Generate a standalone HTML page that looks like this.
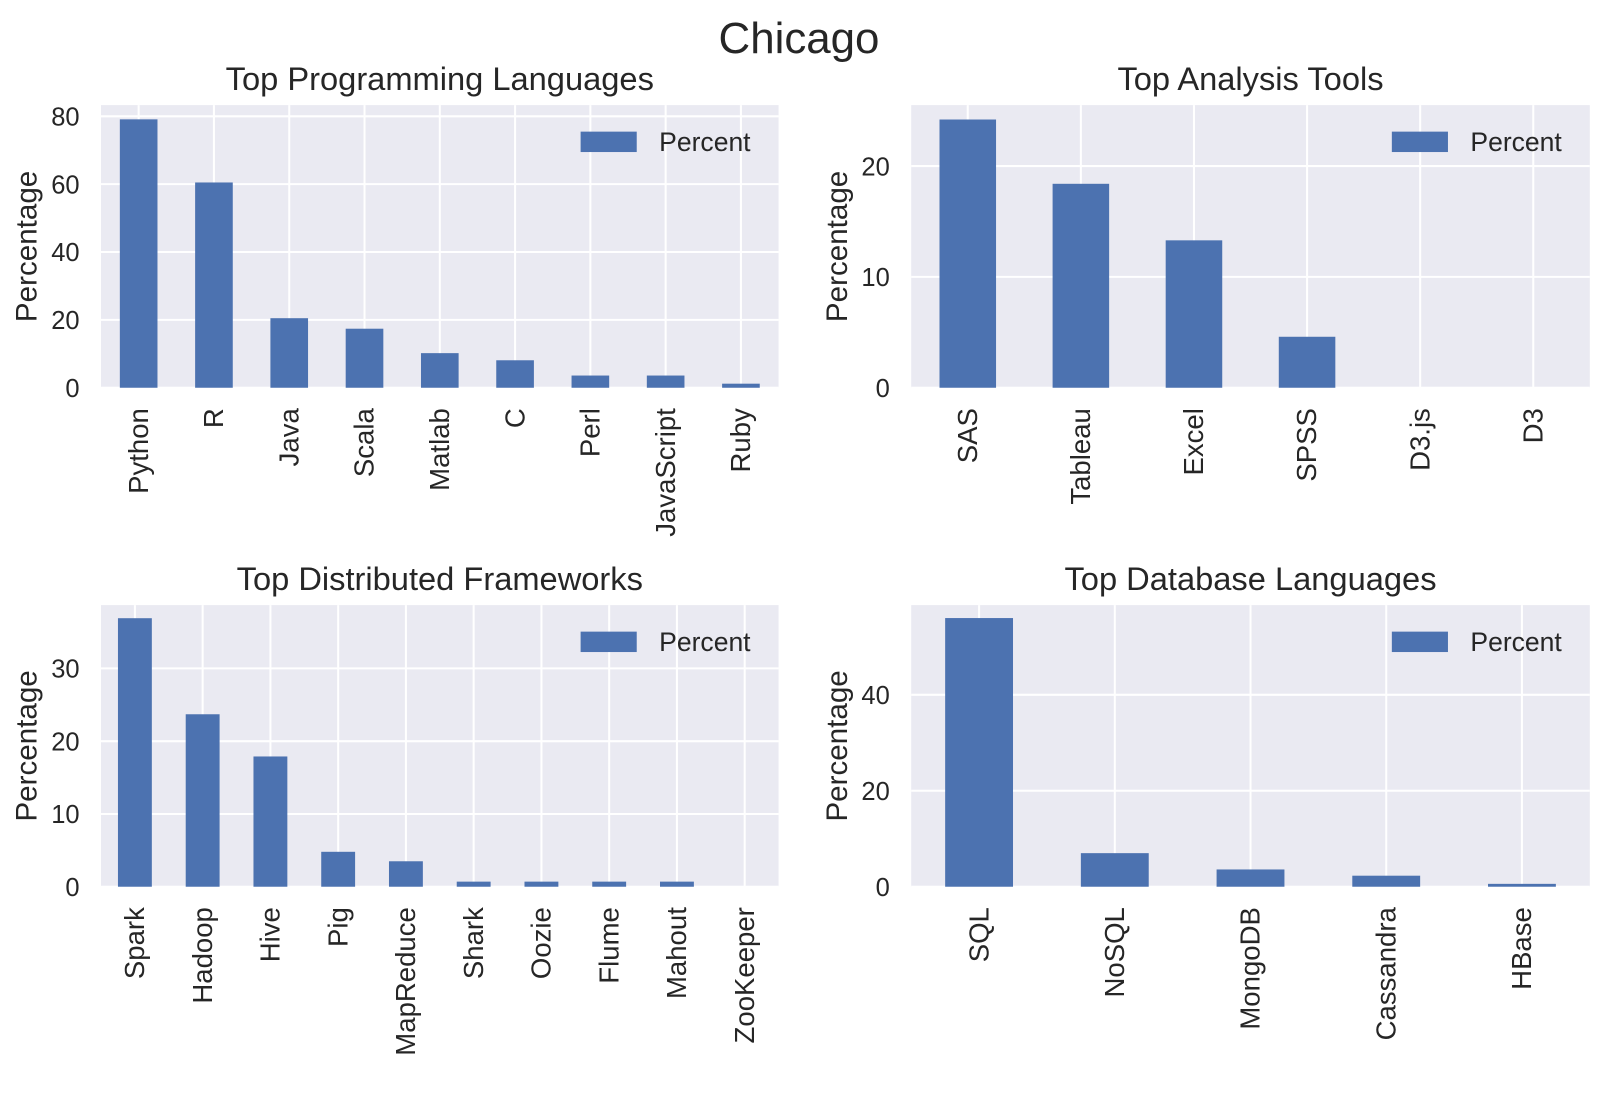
<!DOCTYPE html>
<html><head><meta charset="utf-8"><style>
body{margin:0;background:#fff;}
svg{display:block;font-family:"Liberation Sans","DejaVu Sans",sans-serif;}
</style></head><body>
<svg id="fig" width="1600" height="1100" viewBox="0 0 1568 1078">
<text x="783" y="52" font-size="43" text-anchor="middle" fill="#262626">Chicago</text>
</svg>
<script>
const langCats=["Python","R","Java","Scala","Matlab","C","Perl","JavaScript","Ruby"];
const langVals=[79.1,60.5,20.5,17.4,10.2,8.1,3.6,3.6,1.2];
const langTicks=[0,20,40,60,80];
const toolCats=["SAS","Tableau","Excel","SPSS","D3.js","D3"];
const toolVals=[24.2,18.4,13.3,4.6,0,0];
const toolTicks=[0,10,20];
const distCats=["Spark","Hadoop","Hive","Pig","MapReduce","Shark","Oozie","Flume","Mahout","ZooKeeper"];
const distVals=[36.9,23.7,17.9,4.8,3.5,0.7,0.7,0.7,0.7,0];
const distTicks=[0,10,20,30];
const dbCats=["SQL","NoSQL","MongoDB","Cassandra","HBase"];
const dbVals=[56,7,3.6,2.3,0.6];
const dbTicks=[0,20,40];

const NS="http://www.w3.org/2000/svg";
const fig=document.getElementById('fig');
function mk(tag,attrs,parent,txt){const e=document.createElementNS(NS,tag);for(const k in attrs)e.setAttribute(k,attrs[k]);if(txt!==undefined)e.textContent=txt;(parent||fig).appendChild(e);return e;}

function panel(key,title,cats,vals,ticks,ymax,x0,y0,w,h){
  const g=mk('g',{});
  
  
  const n=cats.length, slot=w/n;
  const xS=i=>x0+slot*(i+0.5);
  const yS=v=>y0+h-v/ymax*h;
  const bg=mk('rect',{x:x0,y:y0,width:w,height:h,fill:'#eaeaf2'},g);
  
  
  cats.forEach((c,i)=>{mk('line',{x1:xS(i),x2:xS(i),y1:y0,y2:y0+h,stroke:'#fff','stroke-width':2},g);});
  ticks.forEach(t=>{
    mk('line',{x1:x0,x2:x0+w,y1:yS(t),y2:yS(t),stroke:'#fff','stroke-width':2},g);
    const tl=mk('text',{x:x0-21,y:yS(t)+9,'font-size':25,'text-anchor':'end',fill:'#262626'},g,String(t));
    
    
  });
  cats.forEach((c,i)=>{
    const bw=slot*0.5;
    const b=mk('rect',{x:xS(i)-bw/2,y:yS(vals[i]),width:bw,height:h-(yS(vals[i])-y0),fill:'#4c72b0'},g);
    
    
    const xl=mk('text',{x:0,y:0,'font-size':27,'text-anchor':'end',fill:'#262626',transform:`translate(${xS(i)+9},${y0+h+20}) rotate(-90)`},g,c);
    
    
  });
  const t=mk('text',{x:x0+w/2,y:y0-15,'font-size':32,'text-anchor':'middle',fill:'#262626'},g,title);
  
  
  const yl=mk('text',{x:0,y:0,'font-size':29,'text-anchor':'middle',fill:'#262626',transform:`translate(${x0-63},${y0+h/2}) rotate(-90)`},g,'Percentage');
  
  
  const lg=mk('g',{},g);
  
  
  mk('rect',{x:x0+w-194,y:y0+26,width:55,height:20,fill:'#4c72b0'},lg);
  mk('text',{x:x0+w-117,y:y0+45,'font-size':26,fill:'#262626'},lg,'Percent');
}
panel('languages','Top Programming Languages',langCats,langVals,langTicks,83.3,99,103,664,277);
panel('tools','Top Analysis Tools',toolCats,toolVals,toolTicks,25.5,893,103,665,277);
panel('frameworks','Top Distributed Frameworks',distCats,distVals,distTicks,38.7,99,593,664,276);
panel('databases','Top Database Languages',dbCats,dbVals,dbTicks,58.7,893,593,665,276);
</script>
</body></html>
